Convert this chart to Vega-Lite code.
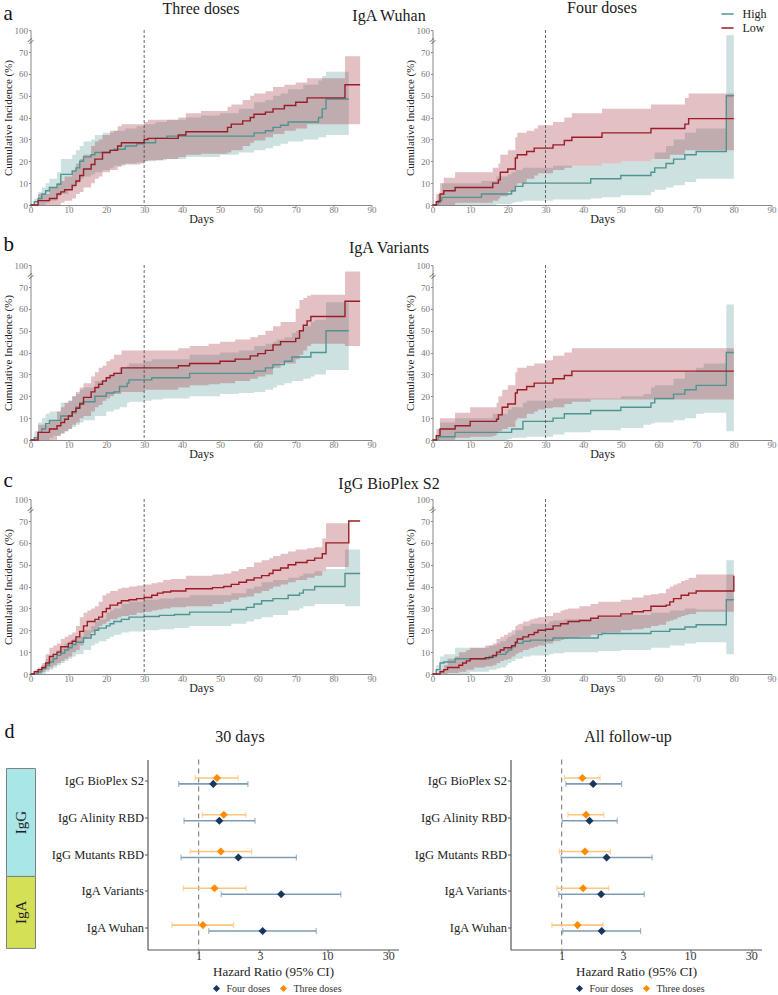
{
"$schema": "https://vega.github.io/schema/vega-lite/v6.json",
"padding": {"left": 1.5, "top": 0, "right": 0, "bottom": 0},
"background": "white",
"config": {
  "font": "Liberation Serif",
  "view": {"stroke": null},
  "axis": {"labelFont": "Liberation Serif", "titleFont": "Liberation Serif", "titleFontWeight": "normal", "grid": false, "labelOverlap": false, "labelSeparation": 0},
  "title": {"font": "Liberation Serif", "fontWeight": "normal", "fontSize": 16, "color": "#1a1a1a"},
  "legend": {"labelFont": "Liberation Serif", "titleFont": "Liberation Serif"},
  "text": {"font": "Liberation Serif"}
},
"datasets": {
"km": [
{"panel":"a3","group":"High","day":0,"est":0,"lo":0,"hi":0},{"panel":"a3","group":"High","day":1,"est":1.5,"lo":0,"hi":3},{"panel":"a3","group":"High","day":2,"est":3,"lo":0,"hi":6},{"panel":"a3","group":"High","day":3,"est":5,"lo":0,"hi":8},{"panel":"a3","group":"High","day":4,"est":6.5,"lo":1,"hi":10},{"panel":"a3","group":"High","day":5,"est":8,"lo":2,"hi":12},{"panel":"a3","group":"High","day":7,"est":9.5,"lo":4,"hi":15},{"panel":"a3","group":"High","day":8,"est":14,"lo":5,"hi":21},{"panel":"a3","group":"High","day":10,"est":14,"lo":7,"hi":21},{"panel":"a3","group":"High","day":11,"est":15.5,"lo":8,"hi":23},{"panel":"a3","group":"High","day":12,"est":17,"lo":10,"hi":25},{"panel":"a3","group":"High","day":13,"est":20,"lo":12,"hi":27},{"panel":"a3","group":"High","day":14,"est":22,"lo":13,"hi":29},{"panel":"a3","group":"High","day":16,"est":23,"lo":14,"hi":30},{"panel":"a3","group":"High","day":17,"est":24,"lo":15,"hi":32},{"panel":"a3","group":"High","day":19,"est":24,"lo":16,"hi":33},{"panel":"a3","group":"High","day":21,"est":25,"lo":17,"hi":33},{"panel":"a3","group":"High","day":22,"est":25.5,"lo":18,"hi":34},{"panel":"a3","group":"High","day":25,"est":27,"lo":19,"hi":35},{"panel":"a3","group":"High","day":28,"est":28,"lo":19.5,"hi":36},{"panel":"a3","group":"High","day":30,"est":28.5,"lo":20,"hi":37},{"panel":"a3","group":"High","day":33,"est":30.5,"lo":20.5,"hi":38},{"panel":"a3","group":"High","day":36,"est":31.5,"lo":21,"hi":39},{"panel":"a3","group":"High","day":41,"est":31.5,"lo":22,"hi":40},{"panel":"a3","group":"High","day":45,"est":31.5,"lo":22,"hi":41},{"panel":"a3","group":"High","day":50,"est":31.5,"lo":23,"hi":42},{"panel":"a3","group":"High","day":55,"est":31.5,"lo":24,"hi":44},{"panel":"a3","group":"High","day":59,"est":33,"lo":25,"hi":47},{"panel":"a3","group":"High","day":62,"est":34,"lo":26,"hi":48},{"panel":"a3","group":"High","day":64,"est":35.5,"lo":27,"hi":50},{"panel":"a3","group":"High","day":66,"est":36.5,"lo":28,"hi":51},{"panel":"a3","group":"High","day":68,"est":38,"lo":29,"hi":53},{"panel":"a3","group":"High","day":72,"est":38,"lo":30,"hi":55},{"panel":"a3","group":"High","day":76,"est":40,"lo":31,"hi":57},{"panel":"a3","group":"High","day":77,"est":44,"lo":31,"hi":59},{"panel":"a3","group":"High","day":78,"est":48.5,"lo":32,"hi":61},{"panel":"a3","group":"High","day":84,"est":48.5,"lo":32,"hi":61},
{"panel":"a3","group":"Low","day":0,"est":0,"lo":0,"hi":0},{"panel":"a3","group":"Low","day":2,"est":2,"lo":0,"hi":5},{"panel":"a3","group":"Low","day":5,"est":3,"lo":0,"hi":8},{"panel":"a3","group":"Low","day":7,"est":5,"lo":0,"hi":10},{"panel":"a3","group":"Low","day":8,"est":6,"lo":1,"hi":11},{"panel":"a3","group":"Low","day":9,"est":7,"lo":2,"hi":13},{"panel":"a3","group":"Low","day":11,"est":9,"lo":3,"hi":16},{"panel":"a3","group":"Low","day":12,"est":11,"lo":5,"hi":19},{"panel":"a3","group":"Low","day":13,"est":13.5,"lo":6,"hi":21},{"panel":"a3","group":"Low","day":14,"est":16.5,"lo":8,"hi":23},{"panel":"a3","group":"Low","day":16,"est":18.5,"lo":10,"hi":27},{"panel":"a3","group":"Low","day":17,"est":21,"lo":12,"hi":29},{"panel":"a3","group":"Low","day":18,"est":21,"lo":13,"hi":30},{"panel":"a3","group":"Low","day":19,"est":24,"lo":15,"hi":32},{"panel":"a3","group":"Low","day":21,"est":25,"lo":16,"hi":34},{"panel":"a3","group":"Low","day":23,"est":27,"lo":17.5,"hi":36},{"panel":"a3","group":"Low","day":24,"est":28.5,"lo":18.5,"hi":37},{"panel":"a3","group":"Low","day":29,"est":28.5,"lo":19,"hi":37},{"panel":"a3","group":"Low","day":30,"est":30,"lo":20,"hi":38},{"panel":"a3","group":"Low","day":31,"est":30.5,"lo":20.5,"hi":39},{"panel":"a3","group":"Low","day":35,"est":30.5,"lo":21,"hi":39},{"panel":"a3","group":"Low","day":39,"est":32,"lo":22,"hi":40},{"panel":"a3","group":"Low","day":41,"est":33.5,"lo":23,"hi":42},{"panel":"a3","group":"Low","day":45,"est":33.5,"lo":23.5,"hi":43},{"panel":"a3","group":"Low","day":52,"est":35.5,"lo":24,"hi":45},{"panel":"a3","group":"Low","day":53,"est":37,"lo":25,"hi":46},{"panel":"a3","group":"Low","day":56,"est":38.5,"lo":27,"hi":48},{"panel":"a3","group":"Low","day":58,"est":40,"lo":28.5,"hi":50},{"panel":"a3","group":"Low","day":59,"est":41.5,"lo":29.5,"hi":51},{"panel":"a3","group":"Low","day":62,"est":42.5,"lo":31,"hi":52},{"panel":"a3","group":"Low","day":64,"est":44,"lo":32.5,"hi":54},{"panel":"a3","group":"Low","day":67,"est":45.5,"lo":34,"hi":55},{"panel":"a3","group":"Low","day":70,"est":47,"lo":35,"hi":56},{"panel":"a3","group":"Low","day":73,"est":49,"lo":37,"hi":58},{"panel":"a3","group":"Low","day":83,"est":55,"lo":37,"hi":68},{"panel":"a3","group":"Low","day":87,"est":55,"lo":37,"hi":68},
{"panel":"a4","group":"High","day":0,"est":0,"lo":0,"hi":0},{"panel":"a4","group":"High","day":1.5,"est":2,"lo":0,"hi":5},{"panel":"a4","group":"High","day":2.5,"est":3.5,"lo":0,"hi":10},{"panel":"a4","group":"High","day":13,"est":5,"lo":0,"hi":11},{"panel":"a4","group":"High","day":17,"est":5,"lo":0.5,"hi":13},{"panel":"a4","group":"High","day":20,"est":5,"lo":0.5,"hi":14},{"panel":"a4","group":"High","day":21,"est":6.5,"lo":1,"hi":15},{"panel":"a4","group":"High","day":22,"est":8.5,"lo":1.5,"hi":16},{"panel":"a4","group":"High","day":24,"est":10,"lo":2,"hi":17},{"panel":"a4","group":"High","day":32,"est":10,"lo":2.5,"hi":18},{"panel":"a4","group":"High","day":42,"est":12,"lo":3,"hi":18},{"panel":"a4","group":"High","day":45,"est":12,"lo":3.5,"hi":19},{"panel":"a4","group":"High","day":50,"est":13.5,"lo":4.5,"hi":20},{"panel":"a4","group":"High","day":58,"est":15,"lo":6,"hi":21},{"panel":"a4","group":"High","day":59,"est":17,"lo":7,"hi":24},{"panel":"a4","group":"High","day":62,"est":19,"lo":8,"hi":27},{"panel":"a4","group":"High","day":64,"est":21,"lo":9,"hi":30},{"panel":"a4","group":"High","day":67,"est":23,"lo":10.5,"hi":33},{"panel":"a4","group":"High","day":70,"est":24.5,"lo":12,"hi":35},{"panel":"a4","group":"High","day":78,"est":50,"lo":12,"hi":93},{"panel":"a4","group":"High","day":80,"est":50,"lo":12,"hi":93},
{"panel":"a4","group":"Low","day":0,"est":0,"lo":0,"hi":0},{"panel":"a4","group":"Low","day":1,"est":1.5,"lo":0,"hi":5},{"panel":"a4","group":"Low","day":2,"est":5,"lo":0,"hi":10},{"panel":"a4","group":"Low","day":3,"est":6.5,"lo":0,"hi":12.5},{"panel":"a4","group":"Low","day":6,"est":8,"lo":1,"hi":15},{"panel":"a4","group":"Low","day":16,"est":10,"lo":2,"hi":17},{"panel":"a4","group":"Low","day":17.5,"est":11.5,"lo":3,"hi":19},{"panel":"a4","group":"Low","day":18,"est":15,"lo":4,"hi":23},{"panel":"a4","group":"Low","day":20,"est":16.5,"lo":6,"hi":25},{"panel":"a4","group":"Low","day":22,"est":21.5,"lo":9,"hi":31},{"panel":"a4","group":"Low","day":22.5,"est":23,"lo":10,"hi":33},{"panel":"a4","group":"Low","day":25,"est":24.5,"lo":12,"hi":34},{"panel":"a4","group":"Low","day":27,"est":26,"lo":13.5,"hi":35},{"panel":"a4","group":"Low","day":28,"est":26,"lo":14.5,"hi":36.5},{"panel":"a4","group":"Low","day":32,"est":27.5,"lo":16,"hi":38},{"panel":"a4","group":"Low","day":35,"est":29.5,"lo":17,"hi":40},{"panel":"a4","group":"Low","day":37,"est":31,"lo":18,"hi":42},{"panel":"a4","group":"Low","day":45,"est":33,"lo":19,"hi":44},{"panel":"a4","group":"Low","day":50,"est":33,"lo":20,"hi":44},{"panel":"a4","group":"Low","day":58,"est":35,"lo":21,"hi":46},{"panel":"a4","group":"Low","day":63,"est":35,"lo":23,"hi":46},{"panel":"a4","group":"Low","day":67,"est":37,"lo":25,"hi":49},{"panel":"a4","group":"Low","day":68,"est":39.5,"lo":25,"hi":51},{"panel":"a4","group":"Low","day":80,"est":39.5,"lo":25,"hi":51},
{"panel":"b3","group":"High","day":0,"est":0,"lo":0,"hi":0},{"panel":"b3","group":"High","day":1,"est":1,"lo":0,"hi":4},{"panel":"b3","group":"High","day":2,"est":3.5,"lo":0,"hi":8},{"panel":"b3","group":"High","day":3,"est":5,"lo":0,"hi":10},{"panel":"b3","group":"High","day":4,"est":7.5,"lo":0,"hi":12},{"panel":"b3","group":"High","day":5,"est":9,"lo":1,"hi":13},{"panel":"b3","group":"High","day":6,"est":9,"lo":2,"hi":13},{"panel":"b3","group":"High","day":8,"est":11,"lo":3,"hi":17},{"panel":"b3","group":"High","day":9,"est":11,"lo":4,"hi":17},{"panel":"b3","group":"High","day":10,"est":11,"lo":5,"hi":18},{"panel":"b3","group":"High","day":11,"est":12.5,"lo":6,"hi":20},{"panel":"b3","group":"High","day":12,"est":15,"lo":7,"hi":21},{"panel":"b3","group":"High","day":13,"est":17,"lo":8,"hi":23},{"panel":"b3","group":"High","day":14,"est":17.5,"lo":9,"hi":24},{"panel":"b3","group":"High","day":17,"est":20,"lo":11,"hi":27},{"panel":"b3","group":"High","day":20,"est":21.5,"lo":13,"hi":29},{"panel":"b3","group":"High","day":22,"est":22,"lo":14,"hi":31},{"panel":"b3","group":"High","day":23.5,"est":24.5,"lo":15,"hi":33},{"panel":"b3","group":"High","day":25.5,"est":26,"lo":17,"hi":34},{"panel":"b3","group":"High","day":26,"est":27.5,"lo":17.5,"hi":35},{"panel":"b3","group":"High","day":30,"est":27.5,"lo":18,"hi":36},{"panel":"b3","group":"High","day":32,"est":28.5,"lo":18.5,"hi":37},{"panel":"b3","group":"High","day":35,"est":28.5,"lo":19,"hi":37},{"panel":"b3","group":"High","day":42,"est":30.5,"lo":20,"hi":39},{"panel":"b3","group":"High","day":50,"est":30.5,"lo":21,"hi":40},{"panel":"b3","group":"High","day":55,"est":30.5,"lo":21.5,"hi":41},{"panel":"b3","group":"High","day":59,"est":31.5,"lo":22,"hi":43},{"panel":"b3","group":"High","day":62,"est":33,"lo":23,"hi":44},{"panel":"b3","group":"High","day":64,"est":34.5,"lo":24,"hi":45},{"panel":"b3","group":"High","day":65,"est":34.5,"lo":25,"hi":46},{"panel":"b3","group":"High","day":67,"est":36,"lo":26,"hi":47},{"panel":"b3","group":"High","day":69,"est":38,"lo":27,"hi":49},{"panel":"b3","group":"High","day":70,"est":38,"lo":27,"hi":50},{"panel":"b3","group":"High","day":72,"est":38,"lo":28,"hi":52},{"panel":"b3","group":"High","day":74,"est":40,"lo":29,"hi":54},{"panel":"b3","group":"High","day":75,"est":40,"lo":30,"hi":55},{"panel":"b3","group":"High","day":78,"est":50,"lo":32,"hi":63},{"panel":"b3","group":"High","day":84,"est":50,"lo":32,"hi":63},
{"panel":"b3","group":"Low","day":0,"est":0,"lo":0,"hi":0},{"panel":"b3","group":"Low","day":2,"est":3.5,"lo":0,"hi":7},{"panel":"b3","group":"Low","day":5,"est":5,"lo":0,"hi":9},{"panel":"b3","group":"Low","day":7,"est":6.5,"lo":2,"hi":13},{"panel":"b3","group":"Low","day":8,"est":8,"lo":3,"hi":15},{"panel":"b3","group":"Low","day":9,"est":9.5,"lo":4,"hi":17},{"panel":"b3","group":"Low","day":10,"est":11,"lo":5,"hi":18},{"panel":"b3","group":"Low","day":11,"est":13,"lo":7,"hi":20},{"panel":"b3","group":"Low","day":12,"est":14.5,"lo":8,"hi":22},{"panel":"b3","group":"Low","day":13,"est":16.5,"lo":10,"hi":24},{"panel":"b3","group":"Low","day":14,"est":19.5,"lo":11,"hi":26},{"panel":"b3","group":"Low","day":16,"est":22,"lo":13,"hi":29},{"panel":"b3","group":"Low","day":17,"est":24,"lo":15,"hi":31},{"panel":"b3","group":"Low","day":18,"est":25.5,"lo":16,"hi":33},{"panel":"b3","group":"Low","day":19,"est":27,"lo":18,"hi":34},{"panel":"b3","group":"Low","day":20,"est":28.5,"lo":19,"hi":36},{"panel":"b3","group":"Low","day":21,"est":29.5,"lo":20,"hi":37},{"panel":"b3","group":"Low","day":22,"est":30.5,"lo":21,"hi":39},{"panel":"b3","group":"Low","day":24,"est":33,"lo":22,"hi":41},{"panel":"b3","group":"Low","day":30,"est":33,"lo":23,"hi":41},{"panel":"b3","group":"Low","day":39,"est":34,"lo":24,"hi":42},{"panel":"b3","group":"Low","day":42,"est":35,"lo":25,"hi":43},{"panel":"b3","group":"Low","day":47,"est":35,"lo":25.5,"hi":44},{"panel":"b3","group":"Low","day":50,"est":36,"lo":26,"hi":45},{"panel":"b3","group":"Low","day":54,"est":37,"lo":27,"hi":46},{"panel":"b3","group":"Low","day":58,"est":38.5,"lo":28,"hi":47},{"panel":"b3","group":"Low","day":60,"est":39.5,"lo":29,"hi":48},{"panel":"b3","group":"Low","day":62,"est":41,"lo":30,"hi":50},{"panel":"b3","group":"Low","day":64,"est":43.5,"lo":33,"hi":52},{"panel":"b3","group":"Low","day":66,"est":45,"lo":35,"hi":54},{"panel":"b3","group":"Low","day":70,"est":46.5,"lo":37,"hi":60},{"panel":"b3","group":"Low","day":71,"est":50,"lo":39,"hi":64},{"panel":"b3","group":"Low","day":72,"est":52.5,"lo":41,"hi":65},{"panel":"b3","group":"Low","day":73,"est":54.5,"lo":43,"hi":66},{"panel":"b3","group":"Low","day":74,"est":56.5,"lo":44,"hi":66.5},{"panel":"b3","group":"Low","day":83,"est":63.5,"lo":43,"hi":91},{"panel":"b3","group":"Low","day":87,"est":63.5,"lo":43,"hi":91},
{"panel":"b4","group":"High","day":0,"est":0,"lo":0,"hi":0},{"panel":"b4","group":"High","day":1.5,"est":1.5,"lo":0,"hi":5},{"panel":"b4","group":"High","day":2,"est":1.5,"lo":0,"hi":8},{"panel":"b4","group":"High","day":6,"est":3.5,"lo":0,"hi":10},{"panel":"b4","group":"High","day":16,"est":3.5,"lo":0,"hi":12},{"panel":"b4","group":"High","day":20,"est":3.5,"lo":0.5,"hi":14},{"panel":"b4","group":"High","day":21,"est":5,"lo":1,"hi":15},{"panel":"b4","group":"High","day":24,"est":8.5,"lo":1,"hi":17},{"panel":"b4","group":"High","day":25,"est":8.5,"lo":1.5,"hi":18},{"panel":"b4","group":"High","day":32,"est":10,"lo":2.5,"hi":19},{"panel":"b4","group":"High","day":35,"est":12,"lo":3.5,"hi":19},{"panel":"b4","group":"High","day":42,"est":13.5,"lo":4.5,"hi":19},{"panel":"b4","group":"High","day":50,"est":15,"lo":5.5,"hi":20},{"panel":"b4","group":"High","day":56,"est":15,"lo":7,"hi":21},{"panel":"b4","group":"High","day":58,"est":17,"lo":7.5,"hi":24},{"panel":"b4","group":"High","day":59,"est":19,"lo":8,"hi":25},{"panel":"b4","group":"High","day":64,"est":21,"lo":9,"hi":28},{"panel":"b4","group":"High","day":67,"est":23,"lo":10,"hi":31},{"panel":"b4","group":"High","day":70,"est":25,"lo":12,"hi":33},{"panel":"b4","group":"High","day":72,"est":25,"lo":12.5,"hi":35},{"panel":"b4","group":"High","day":78,"est":40,"lo":4,"hi":62},{"panel":"b4","group":"High","day":80,"est":40,"lo":4,"hi":62},
{"panel":"b4","group":"Low","day":0,"est":0,"lo":0,"hi":0},{"panel":"b4","group":"Low","day":1,"est":2,"lo":0,"hi":5},{"panel":"b4","group":"Low","day":2,"est":5,"lo":0,"hi":10},{"panel":"b4","group":"Low","day":6,"est":6.5,"lo":1,"hi":12.5},{"panel":"b4","group":"Low","day":10,"est":8.5,"lo":1.5,"hi":15},{"panel":"b4","group":"Low","day":16,"est":8.5,"lo":2,"hi":15},{"panel":"b4","group":"Low","day":17,"est":9.5,"lo":3,"hi":17},{"panel":"b4","group":"Low","day":17.5,"est":11.5,"lo":4,"hi":20},{"panel":"b4","group":"Low","day":18.5,"est":15,"lo":5,"hi":23},{"panel":"b4","group":"Low","day":20,"est":16.5,"lo":6,"hi":25},{"panel":"b4","group":"Low","day":22,"est":21.5,"lo":9,"hi":31},{"panel":"b4","group":"Low","day":22.5,"est":23,"lo":10,"hi":33},{"panel":"b4","group":"Low","day":25,"est":24.5,"lo":12,"hi":34},{"panel":"b4","group":"Low","day":27,"est":26,"lo":13,"hi":35},{"panel":"b4","group":"Low","day":28,"est":26,"lo":14,"hi":35},{"panel":"b4","group":"Low","day":30,"est":26,"lo":14.5,"hi":36.5},{"panel":"b4","group":"Low","day":32,"est":28,"lo":15,"hi":38.5},{"panel":"b4","group":"Low","day":35,"est":29.5,"lo":16.5,"hi":40},{"panel":"b4","group":"Low","day":37,"est":31.5,"lo":17.5,"hi":42},{"panel":"b4","group":"Low","day":42,"est":31.5,"lo":18.5,"hi":42},{"panel":"b4","group":"Low","day":80,"est":31.5,"lo":18.5,"hi":42},
{"panel":"c3","group":"High","day":0,"est":0,"lo":0,"hi":0},{"panel":"c3","group":"High","day":2,"est":1,"lo":0,"hi":2},{"panel":"c3","group":"High","day":3,"est":2.5,"lo":0,"hi":4},{"panel":"c3","group":"High","day":4,"est":4,"lo":1,"hi":7},{"panel":"c3","group":"High","day":5,"est":5.5,"lo":2,"hi":8},{"panel":"c3","group":"High","day":6,"est":7,"lo":3,"hi":9},{"panel":"c3","group":"High","day":7,"est":8.5,"lo":4,"hi":11},{"panel":"c3","group":"High","day":8,"est":9.5,"lo":5,"hi":12},{"panel":"c3","group":"High","day":9,"est":11,"lo":6,"hi":14},{"panel":"c3","group":"High","day":10,"est":12,"lo":7,"hi":15},{"panel":"c3","group":"High","day":11,"est":13.5,"lo":8,"hi":16},{"panel":"c3","group":"High","day":12,"est":14.5,"lo":9,"hi":17},{"panel":"c3","group":"High","day":14,"est":16.5,"lo":11,"hi":20},{"panel":"c3","group":"High","day":16,"est":18,"lo":13,"hi":22},{"panel":"c3","group":"High","day":17,"est":20,"lo":14,"hi":24},{"panel":"c3","group":"High","day":18,"est":21,"lo":15,"hi":25},{"panel":"c3","group":"High","day":20,"est":22,"lo":16,"hi":28},{"panel":"c3","group":"High","day":21,"est":23,"lo":17,"hi":29},{"panel":"c3","group":"High","day":22,"est":24,"lo":18,"hi":30},{"panel":"c3","group":"High","day":24,"est":25,"lo":19,"hi":32},{"panel":"c3","group":"High","day":26,"est":26,"lo":19.5,"hi":33},{"panel":"c3","group":"High","day":30,"est":26.3,"lo":20,"hi":34},{"panel":"c3","group":"High","day":34,"est":26.8,"lo":20.5,"hi":34.5},{"panel":"c3","group":"High","day":38,"est":27.2,"lo":21,"hi":35},{"panel":"c3","group":"High","day":42,"est":28.3,"lo":22,"hi":36},{"panel":"c3","group":"High","day":53,"est":29.5,"lo":23,"hi":37},{"panel":"c3","group":"High","day":57,"est":30.5,"lo":24,"hi":39},{"panel":"c3","group":"High","day":59,"est":32,"lo":25,"hi":40},{"panel":"c3","group":"High","day":61,"est":33.5,"lo":26,"hi":42},{"panel":"c3","group":"High","day":64,"est":34.5,"lo":27,"hi":43},{"panel":"c3","group":"High","day":68,"est":36,"lo":29,"hi":44},{"panel":"c3","group":"High","day":71,"est":37,"lo":30,"hi":45},{"panel":"c3","group":"High","day":72,"est":38.5,"lo":31,"hi":46},{"panel":"c3","group":"High","day":75,"est":40,"lo":32,"hi":47},{"panel":"c3","group":"High","day":78,"est":40,"lo":32,"hi":48},{"panel":"c3","group":"High","day":83,"est":46,"lo":31,"hi":57},{"panel":"c3","group":"High","day":87,"est":46,"lo":31,"hi":57},
{"panel":"c3","group":"Low","day":0,"est":0,"lo":0,"hi":0},{"panel":"c3","group":"Low","day":1,"est":1,"lo":0,"hi":2},{"panel":"c3","group":"Low","day":2,"est":2,"lo":0,"hi":3},{"panel":"c3","group":"Low","day":3,"est":3,"lo":1,"hi":5},{"panel":"c3","group":"Low","day":4,"est":5,"lo":2,"hi":9},{"panel":"c3","group":"Low","day":5,"est":8,"lo":3,"hi":12},{"panel":"c3","group":"Low","day":6,"est":9,"lo":4,"hi":13},{"panel":"c3","group":"Low","day":7,"est":10,"lo":5,"hi":14},{"panel":"c3","group":"Low","day":8,"est":12.5,"lo":6,"hi":16},{"panel":"c3","group":"Low","day":9,"est":12.5,"lo":7,"hi":17},{"panel":"c3","group":"Low","day":10,"est":14,"lo":8,"hi":18},{"panel":"c3","group":"Low","day":11,"est":15,"lo":10,"hi":19},{"panel":"c3","group":"Low","day":12,"est":17,"lo":11,"hi":22},{"panel":"c3","group":"Low","day":13,"est":19.5,"lo":13,"hi":26},{"panel":"c3","group":"Low","day":14,"est":22,"lo":16,"hi":28},{"panel":"c3","group":"Low","day":15,"est":24,"lo":17,"hi":29},{"panel":"c3","group":"Low","day":16,"est":24,"lo":19,"hi":30},{"panel":"c3","group":"Low","day":17,"est":25,"lo":20,"hi":31},{"panel":"c3","group":"Low","day":18,"est":26,"lo":22,"hi":33},{"panel":"c3","group":"Low","day":19,"est":28.5,"lo":23,"hi":36},{"panel":"c3","group":"Low","day":20,"est":30,"lo":24,"hi":37},{"panel":"c3","group":"Low","day":21,"est":31.5,"lo":25,"hi":38},{"panel":"c3","group":"Low","day":23,"est":32.5,"lo":26,"hi":39},{"panel":"c3","group":"Low","day":24,"est":33.5,"lo":26.5,"hi":39.5},{"panel":"c3","group":"Low","day":26,"est":34,"lo":27,"hi":40},{"panel":"c3","group":"Low","day":28,"est":34.5,"lo":28,"hi":40.5},{"panel":"c3","group":"Low","day":30,"est":35,"lo":28.5,"hi":41},{"panel":"c3","group":"Low","day":32,"est":36,"lo":29,"hi":41.5},{"panel":"c3","group":"Low","day":33.5,"est":37,"lo":29.5,"hi":42},{"panel":"c3","group":"Low","day":35,"est":37.5,"lo":30,"hi":43},{"panel":"c3","group":"Low","day":37,"est":38,"lo":30.5,"hi":43.5},{"panel":"c3","group":"Low","day":41,"est":39,"lo":31,"hi":45},{"panel":"c3","group":"Low","day":48,"est":39.5,"lo":32,"hi":45.5},{"panel":"c3","group":"Low","day":51,"est":40,"lo":33,"hi":46},{"panel":"c3","group":"Low","day":53,"est":41,"lo":34,"hi":47},{"panel":"c3","group":"Low","day":55,"est":42,"lo":35,"hi":48},{"panel":"c3","group":"Low","day":57,"est":43,"lo":35.5,"hi":49},{"panel":"c3","group":"Low","day":59,"est":44,"lo":37,"hi":51},{"panel":"c3","group":"Low","day":61,"est":45,"lo":38,"hi":52},{"panel":"c3","group":"Low","day":63,"est":46,"lo":39,"hi":53},{"panel":"c3","group":"Low","day":64,"est":47.5,"lo":40,"hi":54},{"panel":"c3","group":"Low","day":66,"est":48.5,"lo":41,"hi":55},{"panel":"c3","group":"Low","day":68,"est":50,"lo":42,"hi":56},{"panel":"c3","group":"Low","day":70,"est":51,"lo":43,"hi":57},{"panel":"c3","group":"Low","day":73,"est":52,"lo":44,"hi":57.5},{"panel":"c3","group":"Low","day":75,"est":53,"lo":45,"hi":58},{"panel":"c3","group":"Low","day":77,"est":55,"lo":47,"hi":62},{"panel":"c3","group":"Low","day":78,"est":60,"lo":49,"hi":69},{"panel":"c3","group":"Low","day":84,"est":70,"lo":49,"hi":69},{"panel":"c3","group":"Low","day":87,"est":70,"lo":null,"hi":null},
{"panel":"c4","group":"High","day":0,"est":0,"lo":0,"hi":0},{"panel":"c4","group":"High","day":1,"est":2,"lo":0,"hi":4},{"panel":"c4","group":"High","day":2,"est":5,"lo":0,"hi":8},{"panel":"c4","group":"High","day":3,"est":5.5,"lo":0,"hi":9},{"panel":"c4","group":"High","day":6,"est":7,"lo":0,"hi":12},{"panel":"c4","group":"High","day":10,"est":7,"lo":1,"hi":12},{"panel":"c4","group":"High","day":15,"est":8,"lo":2,"hi":13},{"panel":"c4","group":"High","day":17,"est":9,"lo":2.5,"hi":14},{"panel":"c4","group":"High","day":18,"est":9,"lo":3,"hi":15},{"panel":"c4","group":"High","day":19.5,"est":10,"lo":4,"hi":16},{"panel":"c4","group":"High","day":20,"est":11,"lo":5,"hi":17},{"panel":"c4","group":"High","day":21,"est":12.5,"lo":6,"hi":18},{"panel":"c4","group":"High","day":22,"est":14,"lo":7,"hi":20},{"panel":"c4","group":"High","day":24,"est":15,"lo":8,"hi":22},{"panel":"c4","group":"High","day":26,"est":15.5,"lo":8.5,"hi":23},{"panel":"c4","group":"High","day":31,"est":15.5,"lo":9,"hi":24},{"panel":"c4","group":"High","day":32,"est":16.5,"lo":9.5,"hi":24.5},{"panel":"c4","group":"High","day":35,"est":16.5,"lo":10,"hi":25},{"panel":"c4","group":"High","day":44,"est":18,"lo":10.5,"hi":26},{"panel":"c4","group":"High","day":45,"est":18.5,"lo":10.5,"hi":26},{"panel":"c4","group":"High","day":50,"est":18.5,"lo":11,"hi":27},{"panel":"c4","group":"High","day":58,"est":19.5,"lo":12,"hi":28},{"panel":"c4","group":"High","day":63,"est":20.5,"lo":13,"hi":29},{"panel":"c4","group":"High","day":67,"est":21.5,"lo":14,"hi":30},{"panel":"c4","group":"High","day":70,"est":22.5,"lo":14.5,"hi":29.5},{"panel":"c4","group":"High","day":78,"est":34,"lo":9,"hi":52},{"panel":"c4","group":"High","day":80,"est":34,"lo":9,"hi":52},
{"panel":"c4","group":"Low","day":0,"est":0,"lo":0,"hi":0},{"panel":"c4","group":"Low","day":2,"est":1,"lo":0,"hi":2},{"panel":"c4","group":"Low","day":3,"est":2,"lo":0,"hi":4},{"panel":"c4","group":"Low","day":4,"est":3,"lo":0.5,"hi":7},{"panel":"c4","group":"Low","day":6,"est":3,"lo":0.5,"hi":8},{"panel":"c4","group":"Low","day":7,"est":4,"lo":1,"hi":10},{"panel":"c4","group":"Low","day":8,"est":5,"lo":1,"hi":10},{"panel":"c4","group":"Low","day":9,"est":6,"lo":2,"hi":11},{"panel":"c4","group":"Low","day":10,"est":7,"lo":2,"hi":12},{"panel":"c4","group":"Low","day":11,"est":7,"lo":3,"hi":12},{"panel":"c4","group":"Low","day":14,"est":7.5,"lo":3.5,"hi":13},{"panel":"c4","group":"Low","day":16,"est":8.5,"lo":4,"hi":14},{"panel":"c4","group":"Low","day":17,"est":10,"lo":5,"hi":16},{"panel":"c4","group":"Low","day":18,"est":11,"lo":6,"hi":17},{"panel":"c4","group":"Low","day":19,"est":12,"lo":6.5,"hi":18},{"panel":"c4","group":"Low","day":20,"est":12,"lo":7,"hi":19},{"panel":"c4","group":"Low","day":21,"est":13,"lo":8,"hi":20},{"panel":"c4","group":"Low","day":22,"est":14.5,"lo":9,"hi":22},{"panel":"c4","group":"Low","day":22.5,"est":16,"lo":9.5,"hi":22.5},{"panel":"c4","group":"Low","day":23,"est":16,"lo":10,"hi":23},{"panel":"c4","group":"Low","day":24,"est":17,"lo":11,"hi":24},{"panel":"c4","group":"Low","day":25.5,"est":18,"lo":11.5,"hi":24.5},{"panel":"c4","group":"Low","day":26,"est":18,"lo":12,"hi":25},{"panel":"c4","group":"Low","day":27,"est":19,"lo":12.5,"hi":25.5},{"panel":"c4","group":"Low","day":28,"est":20,"lo":13,"hi":26},{"panel":"c4","group":"Low","day":30,"est":20.5,"lo":14,"hi":26.5},{"panel":"c4","group":"Low","day":32,"est":22,"lo":15,"hi":28},{"panel":"c4","group":"Low","day":34,"est":23,"lo":15.5,"hi":29},{"panel":"c4","group":"Low","day":35,"est":23,"lo":16,"hi":29.5},{"panel":"c4","group":"Low","day":36,"est":24,"lo":16.5,"hi":30},{"panel":"c4","group":"Low","day":39,"est":24.5,"lo":17,"hi":31},{"panel":"c4","group":"Low","day":42,"est":25.5,"lo":18,"hi":32},{"panel":"c4","group":"Low","day":44,"est":26.5,"lo":18.5,"hi":33},{"panel":"c4","group":"Low","day":46,"est":26.5,"lo":19,"hi":33},{"panel":"c4","group":"Low","day":50,"est":27.5,"lo":20,"hi":34},{"panel":"c4","group":"Low","day":53,"est":28.5,"lo":20.5,"hi":35},{"panel":"c4","group":"Low","day":56,"est":29,"lo":21,"hi":36},{"panel":"c4","group":"Low","day":58,"est":31,"lo":22,"hi":36.5},{"panel":"c4","group":"Low","day":60,"est":31,"lo":22.5,"hi":37},{"panel":"c4","group":"Low","day":62,"est":31.5,"lo":24,"hi":39},{"panel":"c4","group":"Low","day":63,"est":33,"lo":24.5,"hi":40},{"panel":"c4","group":"Low","day":64,"est":34.5,"lo":25,"hi":41},{"panel":"c4","group":"Low","day":65,"est":34.5,"lo":26,"hi":41.5},{"panel":"c4","group":"Low","day":66,"est":36,"lo":26.5,"hi":42.5},{"panel":"c4","group":"Low","day":67,"est":36,"lo":27,"hi":43},{"panel":"c4","group":"Low","day":68,"est":37,"lo":27.5,"hi":44},{"panel":"c4","group":"Low","day":70,"est":38,"lo":28.5,"hi":45.5},{"panel":"c4","group":"Low","day":80,"est":45,"lo":28.5,"hi":45.5}
],
"hr": [
{"period":"30 days","marker":"IgG BioPlex S2","dose":"Three doses","hr":1.39,"lo":0.94,"hi":2.03},
{"period":"30 days","marker":"IgG BioPlex S2","dose":"Four doses","hr":1.30,"lo":0.70,"hi":2.42},
{"period":"30 days","marker":"IgG Alinity RBD","dose":"Three doses","hr":1.57,"lo":1.07,"hi":2.34},
{"period":"30 days","marker":"IgG Alinity RBD","dose":"Four doses","hr":1.45,"lo":0.77,"hi":2.75},
{"period":"30 days","marker":"IgG Mutants RBD","dose":"Three doses","hr":1.49,"lo":0.86,"hi":2.59},
{"period":"30 days","marker":"IgG Mutants RBD","dose":"Four doses","hr":2.04,"lo":0.73,"hi":5.77},
{"period":"30 days","marker":"IgA Variants","dose":"Three doses","hr":1.33,"lo":0.76,"hi":2.34},
{"period":"30 days","marker":"IgA Variants","dose":"Four doses","hr":4.39,"lo":1.50,"hi":12.8},
{"period":"30 days","marker":"IgA Wuhan","dose":"Three doses","hr":1.08,"lo":0.62,"hi":1.87},
{"period":"30 days","marker":"IgA Wuhan","dose":"Four doses","hr":3.15,"lo":1.20,"hi":8.24},
{"period":"All follow-up","marker":"IgG BioPlex S2","dose":"Three doses","hr":1.45,"lo":1.05,"hi":1.99},
{"period":"All follow-up","marker":"IgG BioPlex S2","dose":"Four doses","hr":1.76,"lo":1.08,"hi":2.93},
{"period":"All follow-up","marker":"IgG Alinity RBD","dose":"Three doses","hr":1.55,"lo":1.12,"hi":2.13},
{"period":"All follow-up","marker":"IgG Alinity RBD","dose":"Four doses","hr":1.65,"lo":1.01,"hi":2.71},
{"period":"All follow-up","marker":"IgG Mutants RBD","dose":"Three doses","hr":1.52,"lo":0.96,"hi":2.40},
{"period":"All follow-up","marker":"IgG Mutants RBD","dose":"Four doses","hr":2.24,"lo":0.99,"hi":5.07},
{"period":"All follow-up","marker":"IgA Variants","dose":"Three doses","hr":1.47,"lo":0.92,"hi":2.33},
{"period":"All follow-up","marker":"IgA Variants","dose":"Four doses","hr":2.03,"lo":0.95,"hi":4.40},
{"period":"All follow-up","marker":"IgA Wuhan","dose":"Three doses","hr":1.33,"lo":0.84,"hi":2.10},
{"period":"All follow-up","marker":"IgA Wuhan","dose":"Four doses","hr":2.05,"lo":1.02,"hi":4.12}
],
"blocks": [{"group":"IgG","n":3},{"group":"IgA","n":2}],
"cut": [{"day": 30}],
"brk": [{"day": 0, "est": 85}],
"lab": [{"day": 0, "est": 100}]
},
"columns": 1,
"align": "none",
"spacing": 27.5,
"resolve": {"scale": {"fill": "independent", "stroke": "independent", "color": "independent"}},
"concat": [
{
"spacing": 9,
"resolve": {"scale": {"fill": "independent", "stroke": "independent", "color": "independent"}},
"vconcat": [
{
"title": {"text": "IgA Wuhan", "anchor": "middle", "offset": -24, "font": "Liberation Serif", "fontSize": 16, "fontWeight": "normal", "color": "#1a1a1a"},
"bounds": "flush", "spacing": 23,
"resolve": {"scale": {"fill": "independent", "stroke": "independent", "color": "independent"}},
"hconcat": [
{"width": 1, "height": 1, "data": {"values": []}, "mark": "point"},
{
"bounds": "flush", "spacing": 61,
"resolve": {"scale": {"fill": "independent", "stroke": "independent", "color": "independent"}},
"hconcat": [
{"width": 341, "height": 175, "title": {"text": "Three doses", "offset": -14.5, "font": "Liberation Serif", "fontSize": 16, "fontWeight": "normal", "color": "#1a1a1a"},
 "encoding": {
   "x": {"field": "day", "type": "quantitative", "scale": {"domain": [0, 90], "nice": false}, "axis": {"values": [0,10,20,30,40,50,60,70,80,90], "title": "Days", "labelFont": "Liberation Serif", "titleFont": "Liberation Serif", "titleFontWeight": "normal", "labelFontSize": 9, "titleFontSize": 12, "labelColor": "#777", "titleColor": "#222", "domainColor": "#888", "tickColor": "#888", "tickSize": 2, "labelPadding": -1.5, "titlePadding": -1, "labelOverlap": false, "labelFlush": false}},
   "y": {"field": "est", "type": "quantitative", "scale": {"domain": [0, 70, 100], "range": [175, 22, 0]}, "axis": {"values": [0,10,20,30,40,50,60,70,100], "title": "Cumulative Incidence (%)", "labelFont": "Liberation Serif", "titleFont": "Liberation Serif", "titleFontWeight": "normal", "labelFontSize": 9, "titleFontSize": 11, "labelColor": "#777", "titleColor": "#222", "domainColor": "#888", "tickColor": "#888", "tickSize": 2, "labelPadding": 1, "titlePadding": 1, "labelOverlap": false}}
 },
 "layer": [
  {"data": {"name": "km"}, "transform": [{"filter": "datum.panel == 'a3'"}], "mark": {"type": "area", "interpolate": "step-after", "opacity": 0.3},
   "encoding": {"y": {"field": "lo", "type": "quantitative", "stack": null}, "y2": {"field": "hi"},
    "fill": {"field": "group", "type": "nominal", "scale": {"domain": ["Low", "High"], "range": ["#a3303a", "#5a9c99"]}, "legend": null}}},
  {"data": {"name": "km"}, "transform": [{"filter": "datum.panel == 'a3'"}], "mark": {"type": "line", "interpolate": "step-after", "strokeWidth": 1.4},
   "encoding": {"stroke": {"field": "group", "type": "nominal", "scale": {"domain": ["High", "Low"], "range": ["#4f9491", "#9b1c26"]}, "legend": null}}},
  {"data": {"name": "cut"}, "mark": {"type": "rule", "strokeDash": [3, 2], "color": "#444", "strokeWidth": 0.8}, "encoding": {"y": null}},
  {"data": {"name": "brk"}, "mark": {"type": "text", "text": "=", "angle": -40, "fontSize": 12, "color": "#555", "align": "center", "baseline": "middle"}},
  {"data": {"name": "lab"}, "mark": {"type": "text", "text": "a", "font": "Liberation Serif", "fontSize": 21, "color": "#111", "align": "left", "baseline": "alphabetic", "dx": -27, "dy": -10.5}}
 ]},
{"width": 339, "height": 175, "title": {"text": "Four doses", "offset": -9, "font": "Liberation Serif", "fontSize": 16, "fontWeight": "normal", "color": "#1a1a1a"},
 "encoding": {
   "x": {"field": "day", "type": "quantitative", "scale": {"domain": [0, 90], "nice": false}, "axis": {"values": [0,10,20,30,40,50,60,70,80,90], "title": "Days", "labelFont": "Liberation Serif", "titleFont": "Liberation Serif", "titleFontWeight": "normal", "labelFontSize": 9, "titleFontSize": 12, "labelColor": "#777", "titleColor": "#222", "domainColor": "#888", "tickColor": "#888", "tickSize": 2, "labelPadding": -1.5, "titlePadding": -1, "labelOverlap": false, "labelFlush": false}},
   "y": {"field": "est", "type": "quantitative", "scale": {"domain": [0, 70, 100], "range": [175, 22, 0]}, "axis": {"values": [0,10,20,30,40,50,60,70,100], "title": "Cumulative Incidence (%)", "labelFont": "Liberation Serif", "titleFont": "Liberation Serif", "titleFontWeight": "normal", "labelFontSize": 9, "titleFontSize": 11, "labelColor": "#777", "titleColor": "#222", "domainColor": "#888", "tickColor": "#888", "tickSize": 2, "labelPadding": 1, "titlePadding": 1, "labelOverlap": false}}
 },
 "layer": [
  {"data": {"name": "km"}, "transform": [{"filter": "datum.panel == 'a4'"}], "mark": {"type": "area", "interpolate": "step-after", "opacity": 0.3},
   "encoding": {"y": {"field": "lo", "type": "quantitative", "stack": null}, "y2": {"field": "hi"},
    "fill": {"field": "group", "type": "nominal", "scale": {"domain": ["Low", "High"], "range": ["#a3303a", "#5a9c99"]}, "legend": null}}},
  {"data": {"name": "km"}, "transform": [{"filter": "datum.panel == 'a4'"}], "mark": {"type": "line", "interpolate": "step-after", "strokeWidth": 1.4},
   "encoding": {"stroke": {"field": "group", "type": "nominal", "scale": {"domain": ["High", "Low"], "range": ["#4f9491", "#9b1c26"]},
     "legend": {"orient": "none", "legendX": 288, "legendY": -23, "title": null, "symbolType": "stroke", "symbolSize": 150, "symbolStrokeWidth": 1.5, "labelFont": "Liberation Serif", "labelFontSize": 12, "labelColor": "#222", "rowPadding": 1, "labelOffset": 8}}}},
  {"data": {"name": "cut"}, "mark": {"type": "rule", "strokeDash": [3, 2], "color": "#444", "strokeWidth": 0.8}, "encoding": {"y": null}},
  {"data": {"name": "brk"}, "mark": {"type": "text", "text": "=", "angle": -40, "fontSize": 12, "color": "#555", "align": "center", "baseline": "middle"}}
 ]}
]
}
]
},
{
"title": {"text": "IgA Variants", "anchor": "middle", "offset": -22, "font": "Liberation Serif", "fontSize": 16, "fontWeight": "normal", "color": "#1a1a1a"},
"bounds": "flush", "spacing": 23,
"resolve": {"scale": {"fill": "independent", "stroke": "independent", "color": "independent"}},
"hconcat": [
{"width": 1, "height": 1, "data": {"values": []}, "mark": "point"},
{
"bounds": "flush", "spacing": 61,
"resolve": {"scale": {"fill": "independent", "stroke": "independent", "color": "independent"}},
"hconcat": [
{"width": 341, "height": 175,
 "encoding": {
   "x": {"field": "day", "type": "quantitative", "scale": {"domain": [0, 90], "nice": false}, "axis": {"values": [0,10,20,30,40,50,60,70,80,90], "title": "Days", "labelFont": "Liberation Serif", "titleFont": "Liberation Serif", "titleFontWeight": "normal", "labelFontSize": 9, "titleFontSize": 12, "labelColor": "#777", "titleColor": "#222", "domainColor": "#888", "tickColor": "#888", "tickSize": 2, "labelPadding": -1.5, "titlePadding": -1, "labelOverlap": false, "labelFlush": false}},
   "y": {"field": "est", "type": "quantitative", "scale": {"domain": [0, 70, 100], "range": [175, 22, 0]}, "axis": {"values": [0,10,20,30,40,50,60,70,100], "title": "Cumulative Incidence (%)", "labelFont": "Liberation Serif", "titleFont": "Liberation Serif", "titleFontWeight": "normal", "labelFontSize": 9, "titleFontSize": 11, "labelColor": "#777", "titleColor": "#222", "domainColor": "#888", "tickColor": "#888", "tickSize": 2, "labelPadding": 1, "titlePadding": 1, "labelOverlap": false}}
 },
 "layer": [
  {"data": {"name": "km"}, "transform": [{"filter": "datum.panel == 'b3'"}], "mark": {"type": "area", "interpolate": "step-after", "opacity": 0.3},
   "encoding": {"y": {"field": "lo", "type": "quantitative", "stack": null}, "y2": {"field": "hi"},
    "fill": {"field": "group", "type": "nominal", "scale": {"domain": ["Low", "High"], "range": ["#a3303a", "#5a9c99"]}, "legend": null}}},
  {"data": {"name": "km"}, "transform": [{"filter": "datum.panel == 'b3'"}], "mark": {"type": "line", "interpolate": "step-after", "strokeWidth": 1.4},
   "encoding": {"stroke": {"field": "group", "type": "nominal", "scale": {"domain": ["High", "Low"], "range": ["#4f9491", "#9b1c26"]}, "legend": null}}},
  {"data": {"name": "cut"}, "mark": {"type": "rule", "strokeDash": [3, 2], "color": "#444", "strokeWidth": 0.8}, "encoding": {"y": null}},
  {"data": {"name": "brk"}, "mark": {"type": "text", "text": "=", "angle": -40, "fontSize": 12, "color": "#555", "align": "center", "baseline": "middle"}},
  {"data": {"name": "lab"}, "mark": {"type": "text", "text": "b", "font": "Liberation Serif", "fontSize": 21, "color": "#111", "align": "left", "baseline": "alphabetic", "dx": -27, "dy": -14}}
 ]},
{"width": 339, "height": 175,
 "encoding": {
   "x": {"field": "day", "type": "quantitative", "scale": {"domain": [0, 90], "nice": false}, "axis": {"values": [0,10,20,30,40,50,60,70,80,90], "title": "Days", "labelFont": "Liberation Serif", "titleFont": "Liberation Serif", "titleFontWeight": "normal", "labelFontSize": 9, "titleFontSize": 12, "labelColor": "#777", "titleColor": "#222", "domainColor": "#888", "tickColor": "#888", "tickSize": 2, "labelPadding": -1.5, "titlePadding": -1, "labelOverlap": false, "labelFlush": false}},
   "y": {"field": "est", "type": "quantitative", "scale": {"domain": [0, 70, 100], "range": [175, 22, 0]}, "axis": {"values": [0,10,20,30,40,50,60,70,100], "title": "Cumulative Incidence (%)", "labelFont": "Liberation Serif", "titleFont": "Liberation Serif", "titleFontWeight": "normal", "labelFontSize": 9, "titleFontSize": 11, "labelColor": "#777", "titleColor": "#222", "domainColor": "#888", "tickColor": "#888", "tickSize": 2, "labelPadding": 1, "titlePadding": 1, "labelOverlap": false}}
 },
 "layer": [
  {"data": {"name": "km"}, "transform": [{"filter": "datum.panel == 'b4'"}], "mark": {"type": "area", "interpolate": "step-after", "opacity": 0.3},
   "encoding": {"y": {"field": "lo", "type": "quantitative", "stack": null}, "y2": {"field": "hi"},
    "fill": {"field": "group", "type": "nominal", "scale": {"domain": ["Low", "High"], "range": ["#a3303a", "#5a9c99"]}, "legend": null}}},
  {"data": {"name": "km"}, "transform": [{"filter": "datum.panel == 'b4'"}], "mark": {"type": "line", "interpolate": "step-after", "strokeWidth": 1.4},
   "encoding": {"stroke": {"field": "group", "type": "nominal", "scale": {"domain": ["High", "Low"], "range": ["#4f9491", "#9b1c26"]}, "legend": null}}},
  {"data": {"name": "cut"}, "mark": {"type": "rule", "strokeDash": [3, 2], "color": "#444", "strokeWidth": 0.8}, "encoding": {"y": null}},
  {"data": {"name": "brk"}, "mark": {"type": "text", "text": "=", "angle": -40, "fontSize": 12, "color": "#555", "align": "center", "baseline": "middle"}}
 ]}
]
}
]
},
{
"title": {"text": "IgG BioPlex S2", "anchor": "middle", "offset": -22.5, "font": "Liberation Serif", "fontSize": 16, "fontWeight": "normal", "color": "#1a1a1a"},
"bounds": "flush", "spacing": 23,
"resolve": {"scale": {"fill": "independent", "stroke": "independent", "color": "independent"}},
"hconcat": [
{"width": 1, "height": 1, "data": {"values": []}, "mark": "point"},
{
"bounds": "flush", "spacing": 61,
"resolve": {"scale": {"fill": "independent", "stroke": "independent", "color": "independent"}},
"hconcat": [
{"width": 341, "height": 175,
 "encoding": {
   "x": {"field": "day", "type": "quantitative", "scale": {"domain": [0, 90], "nice": false}, "axis": {"values": [0,10,20,30,40,50,60,70,80,90], "title": "Days", "labelFont": "Liberation Serif", "titleFont": "Liberation Serif", "titleFontWeight": "normal", "labelFontSize": 9, "titleFontSize": 12, "labelColor": "#777", "titleColor": "#222", "domainColor": "#888", "tickColor": "#888", "tickSize": 2, "labelPadding": -1.5, "titlePadding": -1, "labelOverlap": false, "labelFlush": false}},
   "y": {"field": "est", "type": "quantitative", "scale": {"domain": [0, 70, 100], "range": [175, 22, 0]}, "axis": {"values": [0,10,20,30,40,50,60,70,100], "title": "Cumulative Incidence (%)", "labelFont": "Liberation Serif", "titleFont": "Liberation Serif", "titleFontWeight": "normal", "labelFontSize": 9, "titleFontSize": 11, "labelColor": "#777", "titleColor": "#222", "domainColor": "#888", "tickColor": "#888", "tickSize": 2, "labelPadding": 1, "titlePadding": 1, "labelOverlap": false}}
 },
 "layer": [
  {"data": {"name": "km"}, "transform": [{"filter": "datum.panel == 'c3'"}], "mark": {"type": "area", "interpolate": "step-after", "opacity": 0.3},
   "encoding": {"y": {"field": "lo", "type": "quantitative", "stack": null}, "y2": {"field": "hi"},
    "fill": {"field": "group", "type": "nominal", "scale": {"domain": ["Low", "High"], "range": ["#a3303a", "#5a9c99"]}, "legend": null}}},
  {"data": {"name": "km"}, "transform": [{"filter": "datum.panel == 'c3'"}], "mark": {"type": "line", "interpolate": "step-after", "strokeWidth": 1.4},
   "encoding": {"stroke": {"field": "group", "type": "nominal", "scale": {"domain": ["High", "Low"], "range": ["#4f9491", "#9b1c26"]}, "legend": null}}},
  {"data": {"name": "cut"}, "mark": {"type": "rule", "strokeDash": [3, 2], "color": "#444", "strokeWidth": 0.8}, "encoding": {"y": null}},
  {"data": {"name": "brk"}, "mark": {"type": "text", "text": "=", "angle": -40, "fontSize": 12, "color": "#555", "align": "center", "baseline": "middle"}},
  {"data": {"name": "lab"}, "mark": {"type": "text", "text": "c", "font": "Liberation Serif", "fontSize": 21, "color": "#111", "align": "left", "baseline": "alphabetic", "dx": -27, "dy": -12.5}}
 ]},
{"width": 339, "height": 175,
 "encoding": {
   "x": {"field": "day", "type": "quantitative", "scale": {"domain": [0, 90], "nice": false}, "axis": {"values": [0,10,20,30,40,50,60,70,80,90], "title": "Days", "labelFont": "Liberation Serif", "titleFont": "Liberation Serif", "titleFontWeight": "normal", "labelFontSize": 9, "titleFontSize": 12, "labelColor": "#777", "titleColor": "#222", "domainColor": "#888", "tickColor": "#888", "tickSize": 2, "labelPadding": -1.5, "titlePadding": -1, "labelOverlap": false, "labelFlush": false}},
   "y": {"field": "est", "type": "quantitative", "scale": {"domain": [0, 70, 100], "range": [175, 22, 0]}, "axis": {"values": [0,10,20,30,40,50,60,70,100], "title": "Cumulative Incidence (%)", "labelFont": "Liberation Serif", "titleFont": "Liberation Serif", "titleFontWeight": "normal", "labelFontSize": 9, "titleFontSize": 11, "labelColor": "#777", "titleColor": "#222", "domainColor": "#888", "tickColor": "#888", "tickSize": 2, "labelPadding": 1, "titlePadding": 1, "labelOverlap": false}}
 },
 "layer": [
  {"data": {"name": "km"}, "transform": [{"filter": "datum.panel == 'c4'"}], "mark": {"type": "area", "interpolate": "step-after", "opacity": 0.3},
   "encoding": {"y": {"field": "lo", "type": "quantitative", "stack": null}, "y2": {"field": "hi"},
    "fill": {"field": "group", "type": "nominal", "scale": {"domain": ["Low", "High"], "range": ["#a3303a", "#5a9c99"]}, "legend": null}}},
  {"data": {"name": "km"}, "transform": [{"filter": "datum.panel == 'c4'"}], "mark": {"type": "line", "interpolate": "step-after", "strokeWidth": 1.4},
   "encoding": {"stroke": {"field": "group", "type": "nominal", "scale": {"domain": ["High", "Low"], "range": ["#4f9491", "#9b1c26"]}, "legend": null}}},
  {"data": {"name": "cut"}, "mark": {"type": "rule", "strokeDash": [3, 2], "color": "#444", "strokeWidth": 0.8}, "encoding": {"y": null}},
  {"data": {"name": "brk"}, "mark": {"type": "text", "text": "=", "angle": -40, "fontSize": 12, "color": "#555", "align": "center", "baseline": "middle"}}
 ]}
]
}
]
}
]
},
{
"bounds": "flush", "spacing": 112,
"resolve": {"scale": {"fill": "independent", "stroke": "independent", "color": "independent"}},
"hconcat": [
{"width": 29, "height": 190,
 "title": {"text": "d", "anchor": "start", "frame": "group", "font": "Liberation Serif", "fontSize": 20, "fontWeight": "normal", "color": "#111", "dx": -2, "offset": 18},
 "data": {"name": "blocks"},
 "transform": [{"stack": "n", "groupby": [], "sort": [{"field": "group", "order": "ascending"}], "as": ["y0", "y1"]}, {"calculate": "(datum.y0 + datum.y1) / 2", "as": "ymid"}],
 "layer": [
  {"mark": {"type": "rect", "stroke": "#808080", "strokeWidth": 1},
   "encoding": {"y": {"field": "y0", "type": "quantitative", "scale": {"domain": [-0.03, 5.25], "nice": false, "zero": false}, "axis": null}, "y2": {"field": "y1"},
    "color": {"field": "group", "type": "nominal", "scale": {"domain": ["IgG", "IgA"], "range": ["#a9e6e8", "#d4e157"]}, "legend": null}}},
  {"mark": {"type": "text", "angle": 270, "font": "Liberation Serif", "fontSize": 15, "color": "#222", "baseline": "middle", "align": "center"},
   "encoding": {"y": {"field": "ymid", "type": "quantitative"}, "text": {"field": "group"}}}
 ]},
{"width": 251, "height": 190,
 "title": {"text": "30 days", "dx": -33, "offset": 14, "font": "Liberation Serif", "fontSize": 16, "fontWeight": "normal", "color": "#1a1a1a"},
 "layer": [
  {"data": {"values": [{}]}, "mark": {"type": "rule", "strokeDash": [5, 4], "color": "#888", "strokeWidth": 1.2}, "encoding": {"x": {"datum": 1}}},
  {"data": {"name": "hr"}, "transform": [{"filter": "datum.period == '30 days'"}], "mark": {"type": "rule", "strokeWidth": 1.6},
   "encoding": {"x": {"field": "lo", "type": "quantitative", "scale": {"type": "log", "domain": [0.4, 36], "nice": false}, "axis": {"values": [1, 3, 10, 30], "format": "~g", "title": "Hazard Ratio (95% CI)", "labelFont": "Liberation Serif", "titleFont": "Liberation Serif", "titleFontWeight": "normal", "labelFontSize": 12, "titleFontSize": 13, "labelColor": "#333", "titleColor": "#222", "domainColor": "#555", "tickColor": "#555", "domainWidth": 1.2, "tickSize": 3, "labelPadding": -2, "titlePadding": 4, "labelOverlap": false}},
    "x2": {"field": "hi"},
    "y": {"field": "marker", "type": "nominal", "scale": {"domain": ["IgG BioPlex S2", "IgG Alinity RBD", "IgG Mutants RBD", "IgA Variants", "IgA Wuhan"], "paddingInner": 0.676, "paddingOuter": 0.42}, "axis": {"title": null, "labelFont": "Liberation Serif", "labelFontSize": 12.5, "labelColor": "#222", "domainColor": "#555", "tickColor": "#555", "domainWidth": 1.2, "tickSize": 3, "labelPadding": 1}},
    "yOffset": {"field": "dose", "type": "nominal", "scale": {"domain": ["Three doses", "Four doses"], "paddingInner": 0, "paddingOuter": 0}},
    "color": {"field": "dose", "type": "nominal", "scale": {"domain": ["Three doses", "Four doses"], "range": ["#ffc47e", "#7f9bb5"]}, "legend": null}}},
  {"data": {"name": "hr"}, "transform": [{"filter": "datum.period == '30 days'"}], "mark": {"type": "tick", "thickness": 1.2, "size": 6},
   "encoding": {"x": {"field": "lo", "type": "quantitative"}, "y": {"field": "marker", "type": "nominal"}, "yOffset": {"field": "dose", "type": "nominal"}, "color": {"field": "dose", "type": "nominal"}}},
  {"data": {"name": "hr"}, "transform": [{"filter": "datum.period == '30 days'"}], "mark": {"type": "tick", "thickness": 1.2, "size": 6},
   "encoding": {"x": {"field": "hi", "type": "quantitative"}, "y": {"field": "marker", "type": "nominal"}, "yOffset": {"field": "dose", "type": "nominal"}, "color": {"field": "dose", "type": "nominal"}}},
  {"data": {"name": "hr"}, "transform": [{"filter": "datum.period == '30 days'"}], "mark": {"type": "point", "shape": "diamond", "filled": true, "size": 65, "opacity": 1},
   "encoding": {"x": {"field": "hr", "type": "quantitative"}, "y": {"field": "marker", "type": "nominal"}, "yOffset": {"field": "dose", "type": "nominal"},
    "fill": {"field": "dose", "type": "nominal", "scale": {"domain": ["Four doses", "Three doses"], "range": ["#17375e", "#ff8c00"]},
     "legend": {"orient": "none", "legendX": 64, "legendY": 224, "direction": "horizontal", "title": null, "labelFont": "Liberation Serif", "labelFontSize": 10, "labelColor": "#333", "symbolSize": 50, "symbolType": "diamond", "columnPadding": 8, "labelOffset": 5}}}}
 ]},
{"width": 251, "height": 190,
 "title": {"text": "All follow-up", "dx": -8, "offset": 14, "font": "Liberation Serif", "fontSize": 16, "fontWeight": "normal", "color": "#1a1a1a"},
 "layer": [
  {"data": {"values": [{}]}, "mark": {"type": "rule", "strokeDash": [5, 4], "color": "#888", "strokeWidth": 1.2}, "encoding": {"x": {"datum": 1}}},
  {"data": {"name": "hr"}, "transform": [{"filter": "datum.period == 'All follow-up'"}], "mark": {"type": "rule", "strokeWidth": 1.6},
   "encoding": {"x": {"field": "lo", "type": "quantitative", "scale": {"type": "log", "domain": [0.4, 36], "nice": false}, "axis": {"values": [1, 3, 10, 30], "format": "~g", "title": "Hazard Ratio (95% CI)", "labelFont": "Liberation Serif", "titleFont": "Liberation Serif", "titleFontWeight": "normal", "labelFontSize": 12, "titleFontSize": 13, "labelColor": "#333", "titleColor": "#222", "domainColor": "#555", "tickColor": "#555", "domainWidth": 1.2, "tickSize": 3, "labelPadding": -2, "titlePadding": 4, "labelOverlap": false}},
    "x2": {"field": "hi"},
    "y": {"field": "marker", "type": "nominal", "scale": {"domain": ["IgG BioPlex S2", "IgG Alinity RBD", "IgG Mutants RBD", "IgA Variants", "IgA Wuhan"], "paddingInner": 0.676, "paddingOuter": 0.42}, "axis": {"title": null, "labelFont": "Liberation Serif", "labelFontSize": 12.5, "labelColor": "#222", "domainColor": "#555", "tickColor": "#555", "domainWidth": 1.2, "tickSize": 3, "labelPadding": 1}},
    "yOffset": {"field": "dose", "type": "nominal", "scale": {"domain": ["Three doses", "Four doses"], "paddingInner": 0, "paddingOuter": 0}},
    "color": {"field": "dose", "type": "nominal", "scale": {"domain": ["Three doses", "Four doses"], "range": ["#ffc47e", "#7f9bb5"]}, "legend": null}}},
  {"data": {"name": "hr"}, "transform": [{"filter": "datum.period == 'All follow-up'"}], "mark": {"type": "tick", "thickness": 1.2, "size": 6},
   "encoding": {"x": {"field": "lo", "type": "quantitative"}, "y": {"field": "marker", "type": "nominal"}, "yOffset": {"field": "dose", "type": "nominal"}, "color": {"field": "dose", "type": "nominal"}}},
  {"data": {"name": "hr"}, "transform": [{"filter": "datum.period == 'All follow-up'"}], "mark": {"type": "tick", "thickness": 1.2, "size": 6},
   "encoding": {"x": {"field": "hi", "type": "quantitative"}, "y": {"field": "marker", "type": "nominal"}, "yOffset": {"field": "dose", "type": "nominal"}, "color": {"field": "dose", "type": "nominal"}}},
  {"data": {"name": "hr"}, "transform": [{"filter": "datum.period == 'All follow-up'"}], "mark": {"type": "point", "shape": "diamond", "filled": true, "size": 65, "opacity": 1},
   "encoding": {"x": {"field": "hr", "type": "quantitative"}, "y": {"field": "marker", "type": "nominal"}, "yOffset": {"field": "dose", "type": "nominal"},
    "fill": {"field": "dose", "type": "nominal", "scale": {"domain": ["Four doses", "Three doses"], "range": ["#17375e", "#ff8c00"]},
     "legend": {"orient": "none", "legendX": 64, "legendY": 224, "direction": "horizontal", "title": null, "labelFont": "Liberation Serif", "labelFontSize": 10, "labelColor": "#333", "symbolSize": 50, "symbolType": "diamond", "columnPadding": 8, "labelOffset": 5}}}}
 ]}
]
}
]
}
